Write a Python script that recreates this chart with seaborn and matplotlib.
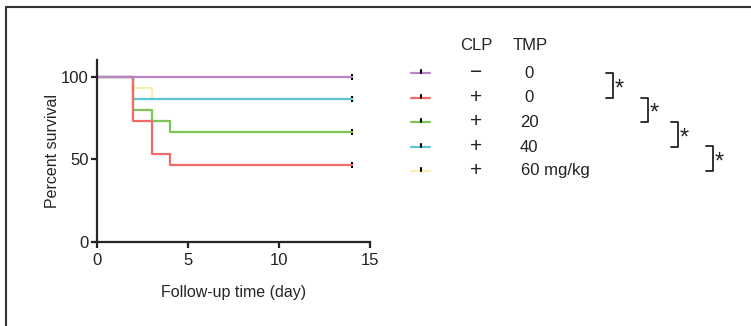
import matplotlib
matplotlib.use("Agg")
import matplotlib.pyplot as plt
from matplotlib.lines import Line2D
import seaborn as sns
import pandas as pd

# Kaplan-Meier step data (day, percent survival) per group
groups = ["CLP- TMP0", "CLP+ TMP0", "CLP+ TMP20", "CLP+ TMP40", "CLP+ TMP60"]
days_sham = [0, 14]
surv_sham = [100, 100]
days_tmp0 = [0, 2, 3, 4, 14]
surv_tmp0 = [100, 73.3, 53.3, 46.7, 46.7]
days_tmp20 = [0, 2, 3, 4, 14]
surv_tmp20 = [100, 80.0, 73.3, 66.7, 66.7]
days_tmp40 = [0, 2, 14]
surv_tmp40 = [100, 86.7, 86.7]
days_tmp60 = [0, 2, 3, 14]
surv_tmp60 = [100, 93.3, 86.7, 86.7]
censor_day = 14

clp_signs = ["\u2212", "+", "+", "+", "+"]
tmp_doses = ["0", "0", "20", "40", "60 mg/kg"]
colors = ["#b784c9", "#f26b6b", "#7cc653", "#5cc6da", "#fbeeb2"]

days_all = [days_sham, days_tmp0, days_tmp20, days_tmp40, days_tmp60]
surv_all = [surv_sham, surv_tmp0, surv_tmp20, surv_tmp40, surv_tmp60]

rows = []
for g, ds, ss in zip(groups, days_all, surv_all):
    for d, s in zip(ds, ss):
        rows.append({"group": g, "day": d, "survival": s})
df = pd.DataFrame(rows)
censor = df[df["day"] == censor_day]

sns.set_style("ticks")
plt.rcParams["font.family"] = ["Liberation Sans", "DejaVu Sans"]
plt.rcParams["text.color"] = "#222222"
plt.rcParams["axes.linewidth"] = 1.6
plt.rcParams["xtick.major.width"] = 1.6
plt.rcParams["ytick.major.width"] = 1.6

fig = plt.figure(figsize=(7.51, 3.26), dpi=100)
W, H = 751, 326
ax = fig.add_axes([97 / W, 1 - 242 / H, 273 / W, 182 / H])

# draw lines back to front so purple sits on top like the original
order = [4, 3, 2, 1, 0]
for i in order:
    sub = df[df["group"] == groups[i]]
    sns.lineplot(data=sub, x="day", y="survival", drawstyle="steps-post",
                 color=colors[i], lw=1.6, estimator=None, ax=ax, legend=False)
sns.scatterplot(data=censor, x="day", y="survival", marker="|", color="black",
                s=14, linewidth=1.5, ax=ax, legend=False)

ax.set_xlim(0, 15)
ax.set_ylim(0, 110)
ax.set_xticks([0, 5, 10, 15])
ax.set_yticks([0, 50, 100])
ax.tick_params(labelsize=12, length=4, direction="out", pad=2,
               colors="#222222")
ax.tick_params(axis="x", pad=4)
ax.set_xlabel("Follow-up time (day)", fontsize=11.5, labelpad=12)
ax.set_ylabel("Percent survival", fontsize=11.5, labelpad=1)
sns.despine(ax=ax)
ax.spines["left"].set_bounds(0, 110)

# legend table
fs = 12
row_y = [73, 98, 122, 147, 171]
fig.text(476 / W, 1 - 45 / H, "CLP", ha="center", va="center", fontsize=fs)
fig.text(530 / W, 1 - 45 / H, "TMP", ha="center", va="center", fontsize=fs)
for i, y in enumerate(row_y):
    fy = 1 - y / H
    fig.add_artist(Line2D([411 / W, 430 / W], [fy, fy], color=colors[i], lw=1.6))
    fig.add_artist(Line2D([420.5 / W, 420.5 / W], [fy, fy + 3 / H], color="black", lw=1.5))
    fig.text(476 / W, fy + 1 / H, clp_signs[i], ha="center", va="center", fontsize=15)
    if i < 4:
        fig.text(529 / W, fy, tmp_doses[i], ha="center", va="center", fontsize=fs)
    else:
        fig.text(521 / W, fy, tmp_doses[i], ha="left", va="center", fontsize=fs)

# significance brackets
brackets = [(613, 73, 98), (648, 98, 122), (678, 122, 147), (713, 146, 171)]
for bx, y0, y1 in brackets:
    xs = [(bx - 7) / W, bx / W, bx / W, (bx - 7) / W]
    ys = [1 - y0 / H, 1 - y0 / H, 1 - y1 / H, 1 - y1 / H]
    fig.add_artist(Line2D(xs, ys, color="#222222", lw=1.3))
    fig.text((bx + 2) / W, 1 - ((y0 + y1) / 2 + 4) / H, "*", ha="left", va="center", fontsize=17)

# outer frame
fig.add_artist(Line2D([6 / W, 1], [1 - 7 / H, 1 - 7 / H], color="#333333", lw=1.5))
fig.add_artist(Line2D([6 / W, 6 / W], [0, 1 - 7 / H], color="#333333", lw=1.5))

fig.savefig("out.png", dpi=100)
